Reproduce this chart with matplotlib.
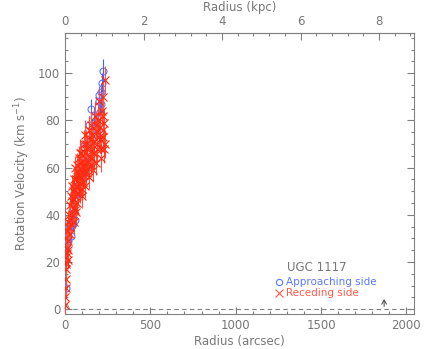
import matplotlib
matplotlib.use('Agg')
import matplotlib.pyplot as plt
import numpy as np

# approaching side (blue circles)
rad_app = [3, 8, 12, 16, 20, 25, 30, 35, 40, 45, 55, 60, 80, 100, 119, 125,
           139, 154, 160, 168, 178, 190, 198, 201, 207, 211, 213, 217, 221]
vel_app = [9, 27, 30, 33, 29, 35, 37, 31, 39, 36, 41, 38, 50, 55, 70, 64,
           78, 85, 72, 81.5, 79.4, 76, 90.7, 88, 83.6, 87, 92, 96, 101]
err_app = [3] * 14 + [4] * 14 + [5]

# receding side (red crosses)
rad_rec = [1, 2, 3, 4, 5, 3, 6, 10, 15, 20, 8, 12,
           8, 12, 18, 22, 28, 32, 38, 45, 50, 58, 65, 15, 25,
           30, 40, 50, 45, 60, 70, 55, 70, 85, 100, 75, 90, 105, 120, 95, 110,
           125, 140, 130, 150, 165, 180, 60, 80, 40, 115,
           35, 48, 62, 78, 92, 65, 82, 98, 112, 88, 102, 118, 135, 145, 160,
           52, 68, 105, 128, 155, 72, 96,
           90, 110, 130, 150, 170, 190, 210, 230, 140, 160, 180, 200, 220, 235,
           175, 195, 215, 230, 200, 220, 235, 210, 120,
           125, 145, 165, 185, 205, 225, 155, 185, 205, 225]
vel_rec = [2, 5, 9, 13, 17, 20, 22, 24, 21, 25, 19, 26,
           30, 33, 29, 35, 32, 38, 36, 40, 37, 42, 41, 37, 40,
           44, 46, 43, 50, 48, 45, 55, 52, 50, 48, 58, 56, 54, 52, 62, 60,
           58, 56, 63, 61, 59, 62, 60, 64, 52, 66,
           48, 47, 52, 49, 53, 55, 57, 51, 57, 60, 63, 61, 60, 65, 64,
           51, 56, 58, 62, 67, 61, 66,
           66, 70, 68, 72, 66, 70, 64, 68, 76, 74, 78, 73, 76, 70,
           82, 80, 84, 79, 88, 90, 97, 68, 74,
           70, 69, 71, 75, 77, 73, 78, 68, 72, 82]
err_rec = [4] * 12 + [5] * 61 + [6] * 33

# labels / axes
xlab = 'Radius (arcsec)'
xlab_top = 'Radius (kpc)'
ylab = 'Rotation Velocity (km s$^{-1}$)'
gal_name = 'UGC 1117'
leg_app = 'Approaching side'
leg_rec = 'Receding side'
arcsec_per_kpc = 230.0
arrow_x = 1870

grey = '#808080'
txt = '#777777'
blue = '#5a78ff'
red = '#ff2a10'

plt.rcParams['font.family'] = ['DejaVu Sans']
plt.rcParams['font.size'] = 8.5
plt.rcParams['axes.edgecolor'] = grey
plt.rcParams['axes.labelcolor'] = txt
plt.rcParams['xtick.color'] = grey
plt.rcParams['ytick.color'] = grey
plt.rcParams['xtick.labelcolor'] = txt
plt.rcParams['ytick.labelcolor'] = txt
plt.rcParams['text.color'] = txt

fig = plt.figure(figsize=(4.36, 3.49), dpi=100)
ax = fig.add_axes([65 / 436, 35 / 349, 349 / 436, 281 / 349])

ax.errorbar(rad_app, vel_app, yerr=err_app, fmt='o', mfc='none', mec=blue,
            ecolor='#4060ff', ms=5, mew=0.8, elinewidth=0.8, capsize=0, zorder=3)
ax.errorbar(rad_rec, vel_rec, yerr=err_rec, fmt='x', color=red, ecolor='#ff5040',
            ms=6, mew=0.8, elinewidth=0.8, capsize=0, zorder=4)

ax.axhline(0, color=grey, ls=(0, (4, 3)), lw=0.8)
ax.annotate('', xy=(arrow_x, 5.5), xytext=(arrow_x, 0),
            arrowprops=dict(arrowstyle='->,head_length=0.35,head_width=0.2',
                            color='#444444', lw=0.7))
ax.annotate('', xy=(12, 4), xytext=(12, 0),
            arrowprops=dict(arrowstyle='->', color='#999999', lw=0.7))

ax.set_xlim(0, 2045)
ax.set_ylim(-2, 117)
ax.set_xticks([0, 500, 1000, 1500, 2000])
ax.set_xticks(np.arange(0, 2045, 100), minor=True)
ax.set_yticks([0, 20, 40, 60, 80, 100])
ax.set_yticks(np.arange(0, 117, 5), minor=True)
ax.tick_params(which='both', direction='in', top=False, right=True, width=0.8)
ax.tick_params(which='major', length=5)
ax.tick_params(which='minor', length=2.5)
ax.set_xlabel(xlab, labelpad=2)
ax.set_ylabel(ylab, labelpad=4)

top = ax.secondary_xaxis('top', functions=(lambda x: x / arcsec_per_kpc,
                                           lambda k: k * arcsec_per_kpc))
top.set_xticks([0, 2, 4, 6, 8])
top.set_xticks(np.arange(0, 9, 0.4), minor=True)
top.tick_params(which='both', direction='in', width=0.8, colors=grey,
                labelcolor=txt)
top.tick_params(which='major', length=5)
top.tick_params(which='minor', length=2.5)
top.set_xlabel(xlab_top, labelpad=3, color=txt)

ax.text(1302, 17.8, gal_name, fontsize=8.5, va='center')
ax.plot([1255], [11.4], 'o', mfc='none', mec=blue, ms=4.5, mew=0.8)
ax.text(1296, 11.4, leg_app, color=blue, fontsize=7.5, va='center')
ax.plot([1255], [6.9], 'x', color='#ff5a4a', ms=6, mew=0.8)
ax.text(1296, 6.9, leg_rec, color='#ff5a4a', fontsize=7.5, va='center')

for s in ax.spines.values():
    s.set_linewidth(0.8)

fig.savefig('out.png', dpi=100)
